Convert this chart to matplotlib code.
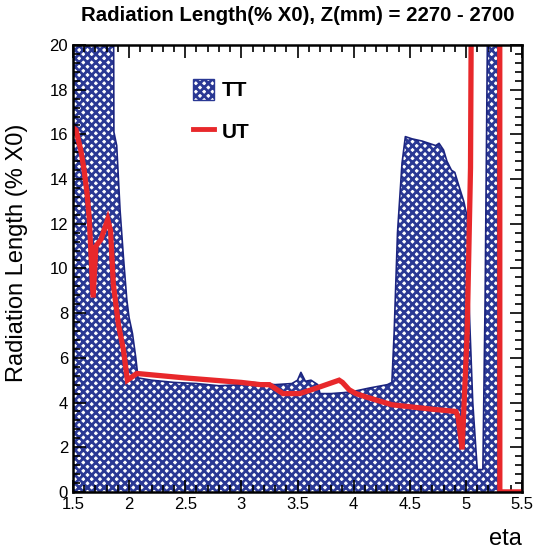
#Radiation length of TT vs UT as a function of eta
import numpy as np
import matplotlib.pyplot as plt
from matplotlib.patches import Patch
from matplotlib.lines import Line2D

plt.rcParams['font.family'] = ['Liberation Sans', 'DejaVu Sans']
plt.rcParams['hatch.linewidth'] = 2.0

#TT material (filled), values above 20 are cut by the frame
EtaTT = [1.5, 1.86, 1.865, 1.89, 1.92, 1.95, 1.98, 2.0, 2.03, 2.06, 2.08, 2.2, 2.4, 2.6, 2.8,
         3.0, 3.1, 3.3, 3.45, 3.5, 3.53, 3.57, 3.62, 3.68, 3.7, 3.8, 3.93, 4.0, 4.14, 4.3, 4.34,
         4.36, 4.39, 4.43, 4.46, 4.52, 4.61, 4.73, 4.76, 4.8, 4.83, 4.87, 4.9, 4.93, 4.98, 5.01,
         5.03, 5.06, 5.1, 5.15, 5.17, 5.19, 5.2, 5.285, 5.29, 5.5]
RadLenTT = [25, 25, 16.1, 15.5, 12.6, 10.5, 8.6, 7.8, 7.1, 6.0, 5.1, 5.0, 4.9, 4.85, 4.75,
            4.8, 4.9, 4.8, 4.85, 5.0, 5.35, 4.95, 5.0, 4.8, 4.4, 4.4, 4.45, 4.5, 4.65, 4.8, 4.9,
            7.1, 11.6, 14.7, 15.9, 15.8, 15.7, 15.5, 15.6, 15.3, 14.8, 14.4, 14.3, 13.8, 13.0, 12.3,
            8.0, 4.0, 1.0, 1.0, 8.6, 20, 25, 25, 0, 0]

#UT material (line)
EtaUT = [1.5, 1.527, 1.57, 1.6, 1.625, 1.645, 1.68, 1.705, 1.75, 1.81, 1.835, 1.86, 1.905, 1.95,
         1.985, 2.07, 2.5, 3.0, 3.17, 3.25, 3.37, 3.52, 3.67, 3.87, 3.9, 3.96, 4.02, 4.11, 4.34,
         4.7, 4.91, 4.93, 4.965, 5.01, 5.04, 5.065, 5.3, 5.301, 5.5]
RadLenUT = [16.3, 16.2, 15.3, 14.4, 13.4, 12.3, 8.7, 11.0, 11.3, 12.2, 11.7, 9.3, 7.5, 6.35,
            5.0, 5.3, 5.1, 4.9, 4.8, 4.8, 4.4, 4.4, 4.65, 5.0, 4.9, 4.57, 4.4, 4.25, 3.9,
            3.7, 3.6, 3.35, 1.9, 7.1, 14.5, 40, 40, 0, 0]

TTBlue = '#2a3894'
UTRed = '#e8282b'
TTHatch = 'xxxx'

fig = plt.figure(figsize=(5.4, 5.49), dpi=100)
ax = fig.add_axes([0.135, 0.104, 0.832, 0.814])

ax.fill_between(EtaTT, RadLenTT, 0, facecolor='white', edgecolor=TTBlue, hatch=TTHatch, linewidth=0)
ax.plot(EtaTT, RadLenTT, color='#1c2580', linewidth=1.2)
ax.plot(EtaUT, RadLenUT, color=UTRed, linewidth=3.8, solid_joinstyle='miter')

ax.set_xlim(1.5, 5.5)
ax.set_ylim(0, 20)
ax.set_xticks(np.arange(1.5, 5.51, 0.5))
ax.set_xticklabels(['1.5', '2', '2.5', '3', '3.5', '4', '4.5', '5', '5.5'])
ax.set_xticks(np.arange(1.5, 5.51, 0.1), minor=True)
ax.set_yticks(np.arange(0, 21, 2))
ax.set_yticks(np.arange(0, 20.01, 0.4), minor=True)
ax.tick_params(which='both', direction='in', top=True, right=True, labelsize=12, width=1.2)
ax.tick_params(which='major', length=9)
ax.tick_params(which='minor', length=5)
for s in ax.spines.values():
    s.set_linewidth(1.8)

ax.set_ylabel('Radiation Length (% X0)', fontsize=17)
ax.yaxis.set_label_coords(-0.1, 0.535)
ax.set_xlabel('eta', fontsize=17, loc='right', labelpad=12)
ax.set_title('Radiation Length(% X0), Z(mm) = 2270 - 2700', fontsize=14.7, fontweight='bold', pad=17)

handles = [Patch(facecolor='white', edgecolor=TTBlue, hatch=TTHatch, linewidth=1),
           Line2D([0], [0], color=UTRed, linewidth=3.5)]
ax.legend(handles, ['TT', 'UT'], loc='upper left', bbox_to_anchor=(0.267, 0.925), frameon=False,
          prop={'size': 15, 'weight': 'bold'}, handlelength=1.0, handleheight=1.2,
          labelspacing=0.95, handletextpad=0.4, borderpad=0, borderaxespad=0)

plt.savefig('out.png', dpi=100)
plt.close()
